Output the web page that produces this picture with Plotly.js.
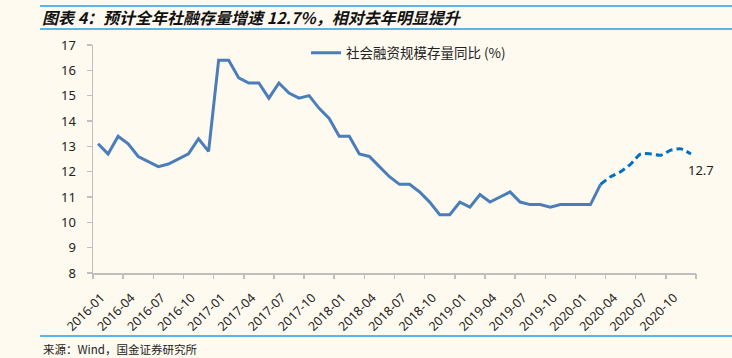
<!DOCTYPE html>
<html>
<head>
<meta charset="utf-8">
<script src="https://cdn.plot.ly/plotly-3.0.1.min.js"></script>
<style>
html,body{margin:0;padding:0;background:#fefaf0;}
#chart{width:732px;height:358px;}
</style>
</head>
<body>
<div id="chart"></div>
<script>
// Months 2016-01 .. 2020-12
var years = ['2016', '2017', '2018', '2019', '2020'];
var monthNums = ['01','02','03','04','05','06','07','08','09','10','11','12'];
var months = [];
years.forEach(function (y) { monthNums.forEach(function (m) { months.push(y + '-' + m); }); });

// Tick labels (every 3 months)
var tickLabels = ['2016-01','2016-04','2016-07','2016-10','2017-01','2017-04','2017-07','2017-10',
  '2018-01','2018-04','2018-07','2018-10','2019-01','2019-04','2019-07','2019-10',
  '2020-01','2020-04','2020-07','2020-10'];

// Actual: 2016-01 .. 2020-03
var actualValues = [13.1, 12.7, 13.4, 13.1, 12.6, 12.4, 12.2, 12.3, 12.5, 12.7, 13.3, 12.8,
  16.4, 16.4, 15.7, 15.5, 15.5, 14.9, 15.5, 15.1, 14.9, 15.0, 14.5, 14.1,
  13.4, 13.4, 12.7, 12.6, 12.2, 11.8, 11.5, 11.5, 11.2, 10.8, 10.3, 10.3,
  10.8, 10.6, 11.1, 10.8, 11.0, 11.2, 10.8, 10.7, 10.7, 10.6, 10.7, 10.7,
  10.7, 10.7, 11.5];
// Forecast: 2020-03 .. 2020-12
var forecastValues = [11.5, 11.8, 12.0, 12.3, 12.7, 12.7, 12.65, 12.85, 12.9, 12.7];

var seriesName = '社会融资规模存量同比 (%)';
var titleText = '图表 4：预计全年社融存量增速 12.7%，相对去年明显提升';
var sourceText = '来源：Wind，国金证券研究所';

var actualX = months.slice(0, actualValues.length);
var forecastX = months.slice(actualValues.length - 1, actualValues.length - 1 + forecastValues.length);

// boundary tick positions (every 3 categories)
var boundaryTicks = [];
for (var k = 0; k <= months.length; k += 3) boundaryTicks.push(k - 0.5);

var lastX = forecastX[forecastX.length - 1];
var lastY = forecastValues[forecastValues.length - 1];

var PL = 93, PR = 36, PT = 45, PB = 85, W = 732, H = 358;
var pw = W - PL - PR, ph = H - PT - PB;
function px2x(px) { return (px - PL) / pw; }
function py2y(py) { return (H - PB - py) / ph; }

var traces = [
  {
    x: actualX, y: actualValues, type: 'scatter', mode: 'lines', name: seriesName,
    line: { color: '#4a7ebb', width: 3 }, xaxis: 'x', yaxis: 'y', hoverinfo: 'x+y'
  },
  {
    x: forecastX, y: forecastValues, type: 'scatter', mode: 'lines', name: seriesName,
    line: { color: '#0070c0', width: 3, dash: '7px,4px', shape: 'spline', smoothing: 0.6 },
    showlegend: false, xaxis: 'x', yaxis: 'y'
  },
  {
    x: [], y: [], type: 'scatter', mode: 'markers', xaxis: 'x2', yaxis: 'y',
    showlegend: false, hoverinfo: 'skip'
  }
];

var layout = {
  width: W, height: H,
  paper_bgcolor: '#fefaf0', plot_bgcolor: '#fefaf0',
  margin: { l: PL, r: PR, t: PT, b: PB, pad: 0 },
  font: { family: 'Noto Sans, Noto Sans CJK SC, sans-serif', color: '#222', size: 12 },
  title: {
    text: titleText,
    xref: 'container', yref: 'container',
    x: 42 / W, xanchor: 'left', y: 1 - 18 / H, yanchor: 'middle',
    font: { family: 'Noto Sans CJK SC, sans-serif', size: 16, weight: 'bold', style: 'italic', color: '#111' }
  },
  showlegend: true,
  legend: {
    x: px2x(306), xanchor: 'left', y: py2y(53), yanchor: 'middle',
    bgcolor: 'rgba(0,0,0,0)', font: { family: 'Noto Sans CJK SC, sans-serif', size: 13.5, color: '#222' },
    itemwidth: 30
  },
  xaxis: {
    type: 'category', categoryorder: 'array', categoryarray: months,
    range: [-0.5, months.length - 0.5],
    tickmode: 'array', tickvals: tickLabels, ticktext: tickLabels,
    tickangle: -45, ticks: '', ticklabelstandoff: 11, ticklabelshift: 3,
    showline: true, linecolor: '#bfbfbf', linewidth: 1.5,
    showgrid: false, zeroline: false,
    tickfont: { family: 'Noto Sans, sans-serif', size: 12.5, color: '#222' }
  },
  xaxis2: {
    overlaying: 'x', anchor: 'y', side: 'bottom', type: 'linear',
    range: [-0.5, months.length - 0.5],
    tickmode: 'array', tickvals: boundaryTicks,
    ticks: 'outside', ticklen: 5, tickcolor: '#bfbfbf', tickwidth: 1.5,
    showticklabels: false, showline: false, showgrid: false, zeroline: false
  },
  yaxis: {
    range: [8, 17], tickmode: 'linear', tick0: 8, dtick: 1,
    ticks: 'outside', ticklen: 5, tickcolor: '#bfbfbf', tickwidth: 1.5,
    showline: true, linecolor: '#bfbfbf', linewidth: 1.5,
    showgrid: false, zeroline: false, ticklabelstandoff: 8,
    tickfont: { family: 'Noto Sans, sans-serif', size: 13, color: '#222' }
  },
  shapes: [
    { type: 'line', xref: 'paper', yref: 'paper', x0: px2x(40), x1: px2x(732), y0: py2y(6), y1: py2y(6),
      line: { color: '#5ab6e8', width: 2 } },
    { type: 'line', xref: 'paper', yref: 'paper', x0: px2x(40), x1: px2x(732), y0: py2y(29), y1: py2y(29),
      line: { color: '#5ab6e8', width: 2 } },
    { type: 'line', xref: 'paper', yref: 'paper', x0: px2x(40), x1: px2x(732), y0: py2y(336), y1: py2y(336),
      line: { color: '#5ab6e8', width: 2 } }
  ],
  annotations: [
    { x: lastX, y: lastY, xref: 'x', yref: 'y', text: String(lastY), showarrow: false,
      xanchor: 'center', yanchor: 'top', xshift: 10, yshift: -5,
      font: { family: 'Noto Sans, sans-serif', size: 13, color: '#222' } },
    { x: px2x(41), y: py2y(349), xref: 'paper', yref: 'paper', text: sourceText, showarrow: false,
      xanchor: 'left', yanchor: 'middle',
      font: { family: 'Noto Sans CJK SC, sans-serif', size: 11.5, color: '#222' } }
  ]
};

Plotly.newPlot('chart', traces, layout, { staticPlot: true, displayModeBar: false });
</script>
</body>
</html>
